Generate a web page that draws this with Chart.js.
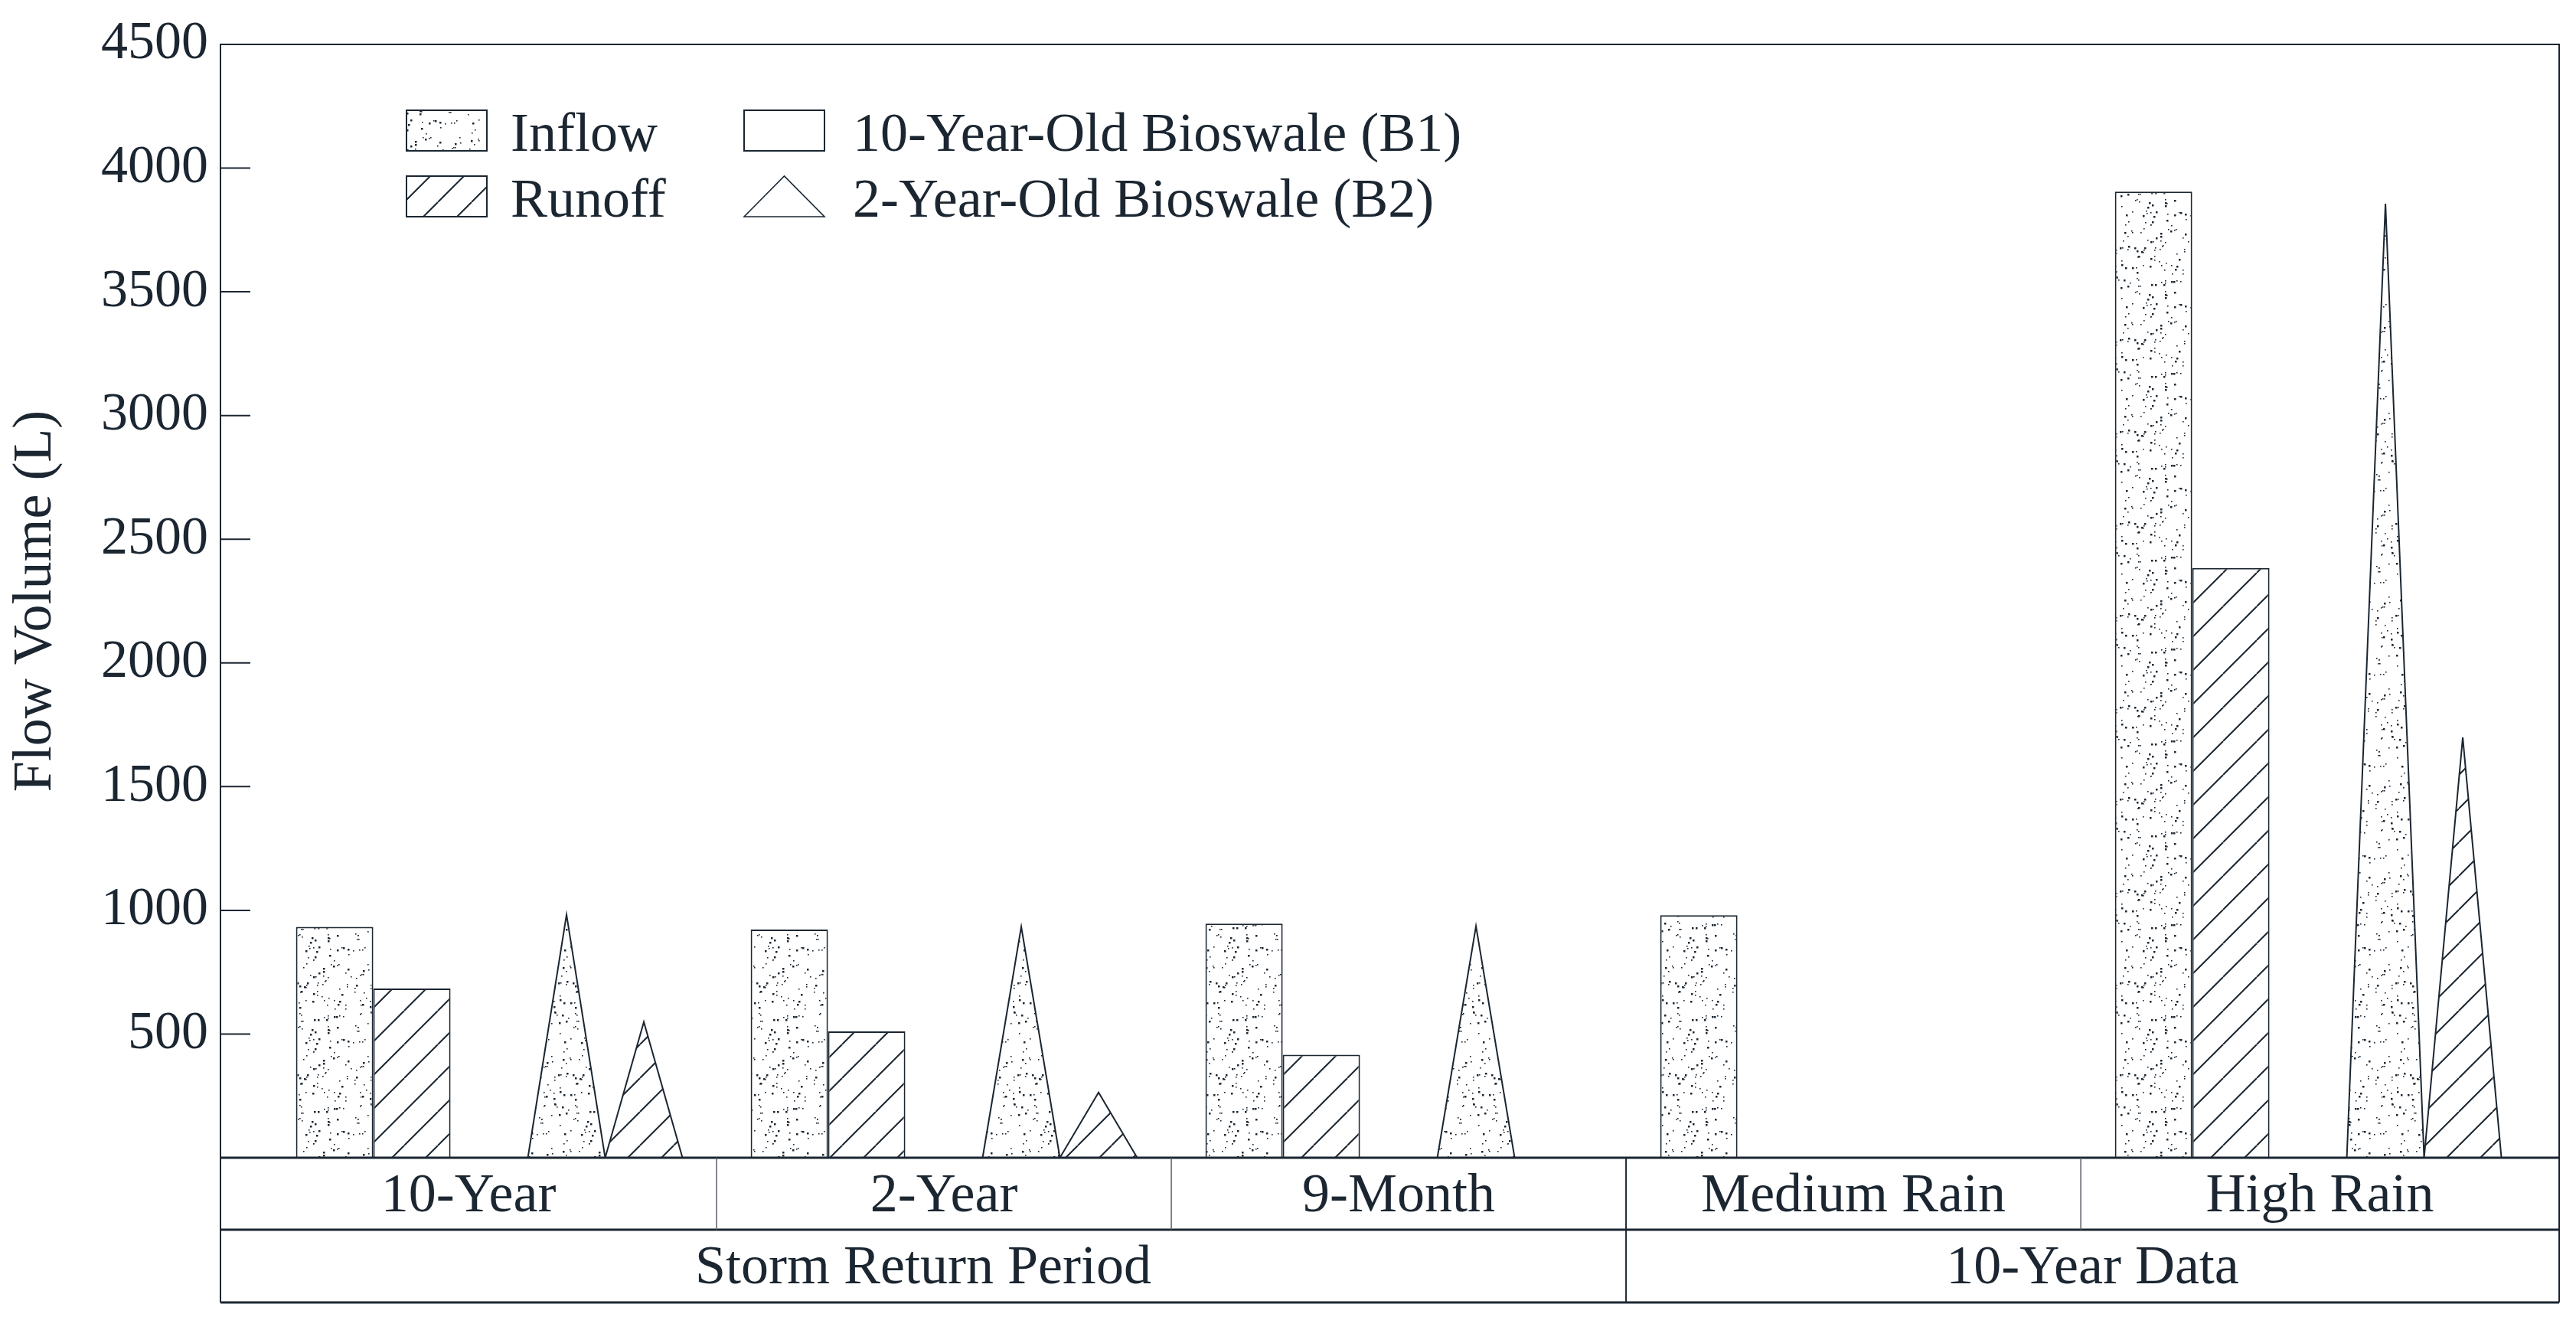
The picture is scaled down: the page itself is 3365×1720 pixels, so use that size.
<!DOCTYPE html>
<html>
<head>
<meta charset="utf-8">
<title>Flow Volume</title>
<script src="https://cdn.jsdelivr.net/npm/chart.js@4.4.1/dist/chart.umd.min.js"></script>
<style>
  html, body { margin: 0; padding: 0; background: #ffffff; }
  #wrap { width: 3365px; height: 1720px; position: relative; }
</style>
</head>
<body>
<div id="wrap"><canvas id="flowChart"></canvas></div>
<script>
/* ---------------------------------------------- */
/* Flow volume per storm / rain class, B1 vs B2   */
/* ---------------------------------------------- */

// -------------------------------
// DATA
// -------------------------------
const categories = ['10-Year', '2-Year', '9-Month', 'Medium Rain', 'High Rain'];
const groups = ['Storm Return Period', '10-Year Data'];
const groupSpans = [3, 2];           // how many categories sit under each group label

const b1Inflow = [933, 922, 946, 980, 3905];
const b1Runoff = [684, 511, 416, null, 2384];
const b2Inflow = [982, 934, 936, null, 3856];
const b2Runoff = [549, 264, null, null, 1699];

const yTicks = [500, 1000, 1500, 2000, 2500, 3000, 3500, 4000, 4500];
const yTitle = 'Flow Volume (L)';

const legendFills = ['Inflow', 'Runoff'];
const legendShapes = ['10-Year-Old Bioswale (B1)', '2-Year-Old Bioswale (B2)'];

// -------------------------------
// LOOK
// -------------------------------
const INK = '#1b2631';
const SERIF = "'Liberation Serif', 'Times New Roman', serif";

Chart.defaults.font.family = SERIF;
Chart.defaults.color = INK;

const canvas = document.getElementById('flowChart');
const ctx = canvas.getContext('2d');

// stipple texture for inflow (fixed seed, texture only)
function makeDots() {
  const c = document.createElement('canvas');
  c.width = 120; c.height = 120;
  const g = c.getContext('2d');
  g.fillStyle = '#ffffff';
  g.fillRect(0, 0, 120, 120);
  g.fillStyle = INK;
  let seed = 12345;
  const next = () => (seed = (seed * 16807) % 2147483647) / 2147483647;
  for (let i = 0; i < 150; i++) {
    const px = Math.floor(next() * 120);
    const py = Math.floor(next() * 120);
    const big = next() < 0.3;
    g.fillRect(px, py, big ? 2.5 : 1.6, big ? 2.5 : 1.6);
  }
  return ctx.createPattern(c, 'repeat');
}

// 45 degree "/" hatching for runoff
function makeHatch() {
  const s = 44;
  const c = document.createElement('canvas');
  c.width = s; c.height = s;
  const g = c.getContext('2d');
  g.fillStyle = '#ffffff';
  g.fillRect(0, 0, s, s);
  g.strokeStyle = INK;
  g.lineWidth = 2;
  [-s, 0, s].forEach(k => {
    g.beginPath();
    g.moveTo(k, s);
    g.lineTo(k + s, 0);
    g.stroke();
  });
  return ctx.createPattern(c, 'repeat');
}

const dotFill = makeDots();
const hatchFill = makeHatch();

const toPoints = arr => arr.map((v, i) => ({ x: i, y: v }));

// -------------------------------
// TRIANGLE BARS (B2) + FRAME / TABLE / LEGEND
// -------------------------------
function line(c, x1, y1, x2, y2) {
  c.beginPath();
  c.moveTo(x1, y1);
  c.lineTo(x2, y2);
  c.stroke();
}

function triangle(c, left, bottom, w, h) {
  c.beginPath();
  c.moveTo(left, bottom);
  c.lineTo(left + w / 2, bottom - h);
  c.lineTo(left + w, bottom);
  c.closePath();
}

const trianglePlugin = {
  id: 'triangles',
  afterDatasetsDraw(chart) {
    const c = chart.ctx;
    chart.data.datasets.forEach((ds, i) => {
      if (!ds.triangle) return;
      const meta = chart.getDatasetMeta(i);
      meta.data.forEach((el, j) => {
        if (ds.data[j].y == null) return;
        const p = el.getProps(['x', 'y', 'base', 'width'], true);
        c.save();
        c.beginPath();
        c.moveTo(p.x - p.width / 2, p.base);
        c.lineTo(p.x, p.y);
        c.lineTo(p.x + p.width / 2, p.base);
        c.closePath();
        c.fillStyle = ds.triangleFill;
        c.fill();
        c.strokeStyle = INK;
        c.lineWidth = 2;
        c.lineJoin = 'miter';
        c.stroke();
        c.restore();
      });
    });
  }
};

const framePlugin = {
  id: 'frameTable',
  afterDraw(chart) {
    const c = chart.ctx;
    const a = chart.chartArea;
    const xs = chart.scales.x;
    const ys = chart.scales.y;
    const row1 = a.bottom + 94;
    const row2 = row1 + 95;
    const last = categories.length - 1;
    const edge = i => (i < 0 ? a.left : i >= last ? a.right : xs.getPixelForValue(i + 0.5));

    c.save();
    c.strokeStyle = INK;

    // outer frame
    c.lineWidth = 2;
    c.beginPath();
    c.moveTo(a.left, row2);
    c.lineTo(a.left, a.top);
    c.lineTo(a.right, a.top);
    c.lineTo(a.right, row2);
    c.stroke();

    // axis line and table rows
    c.lineWidth = 3;
    [a.bottom, row1, row2].forEach(yy => line(c, a.left, yy, a.right, yy));

    // y ticks point inward
    c.lineWidth = 2;
    ys.ticks.forEach(t => {
      const py = ys.getPixelForValue(t.value);
      line(c, a.left, py, a.left + 39, py);
    });

    // dividers between categories; group breaks run through both rows
    const breaks = [];
    let run = 0;
    groupSpans.forEach(n => { run += n; breaks.push(run - 1); });
    for (let i = 0; i < last; i++) {
      const px = edge(i);
      if (breaks.includes(i)) {
        c.strokeStyle = INK;
        c.lineWidth = 2;
        line(c, px, a.bottom, px, row2);
      } else {
        c.strokeStyle = '#5a6169';
        c.lineWidth = 1.5;
        line(c, px, a.bottom, px, row1);
      }
    }

    // category + group labels
    c.fillStyle = INK;
    c.font = '72px ' + SERIF;
    c.textAlign = 'center';
    c.textBaseline = 'middle';
    categories.forEach((name, i) => {
      c.fillText(name, (edge(i - 1) + edge(i)) / 2, (a.bottom + row1) / 2 + 4);
    });
    let first = 0;
    groups.forEach((name, g) => {
      const lastIdx = first + groupSpans[g] - 1;
      c.fillText(name, (edge(first - 1) + edge(lastIdx)) / 2, (row1 + row2) / 2 + 4);
      first = lastIdx + 1;
    });

    // legend: fill = flow type, shape = bioswale
    const boxW = 105, boxH = 53;
    const col1 = 531, col2 = 972;
    const rowTop = [144, 230];
    c.textAlign = 'left';
    c.textBaseline = 'alphabetic';
    c.lineWidth = 2;
    c.strokeStyle = INK;
    [dotFill, hatchFill].forEach((fill, r) => {
      c.fillStyle = fill;
      c.fillRect(col1, rowTop[r], boxW, boxH);
      c.strokeRect(col1, rowTop[r], boxW, boxH);
      c.fillStyle = INK;
      c.fillText(legendFills[r], col1 + 136, rowTop[r] + boxH);
    });
    c.fillStyle = '#ffffff';
    c.fillRect(col2, rowTop[0], boxW, boxH);
    c.strokeRect(col2, rowTop[0], boxW, boxH);
    triangle(c, col2, rowTop[1] + boxH, boxW, boxH);
    c.fill();
    c.lineWidth = 1.6;
    c.stroke();
    c.fillStyle = INK;
    legendShapes.forEach((txt, r) => c.fillText(txt, col2 + 142, rowTop[r] + boxH));

    c.restore();
  }
};

// -------------------------------
// CHART
// -------------------------------
new Chart(canvas, {
  type: 'bar',
  data: {
    datasets: [
      { label: 'B1 Inflow', data: toPoints(b1Inflow), backgroundColor: dotFill, borderColor: INK, borderWidth: 2 },
      { label: 'B1 Runoff', data: toPoints(b1Runoff), backgroundColor: hatchFill, borderColor: INK, borderWidth: 2 },
      { label: 'spacer', data: toPoints(categories.map(() => null)), backgroundColor: 'rgba(0,0,0,0)', borderWidth: 0 },
      { label: 'B2 Inflow', data: toPoints(b2Inflow), backgroundColor: 'rgba(0,0,0,0)', borderWidth: 0,
        triangle: true, triangleFill: dotFill },
      { label: 'B2 Runoff', data: toPoints(b2Runoff), backgroundColor: 'rgba(0,0,0,0)', borderWidth: 0,
        triangle: true, triangleFill: hatchFill }
    ]
  },
  options: {
    responsive: true,
    maintainAspectRatio: false,
    animation: false,
    devicePixelRatio: 1,
    layout: { padding: { top: 45, right: 22, bottom: 208, left: 0 } },
    datasets: { bar: { categoryPercentage: 0.85, barPercentage: 1 } },
    scales: {
      x: {
        type: 'linear',
        display: false,
        offset: false,
        min: -0.591,
        max: 4.552,
        // one tick per category so the bar ruler uses the category spacing
        afterBuildTicks: scale => { scale.ticks = categories.map((c, i) => ({ value: i })); }
      },
      y: {
        min: 0,
        max: 4500,
        afterBuildTicks: scale => { scale.ticks = yTicks.map(v => ({ value: v })); },
        afterFit: scale => { scale.width = 288; },
        grid: { display: false, drawTicks: false },
        border: { display: false },
        ticks: { padding: 16, font: { size: 70 }, color: INK, callback: v => String(v) },
        title: { display: true, text: yTitle, font: { size: 72 }, color: INK, padding: { top: 4, bottom: 0 } }
      }
    },
    plugins: {
      legend: { display: false },
      tooltip: { enabled: false }
    }
  },
  plugins: [trianglePlugin, framePlugin]
});
</script>
</body>
</html>
